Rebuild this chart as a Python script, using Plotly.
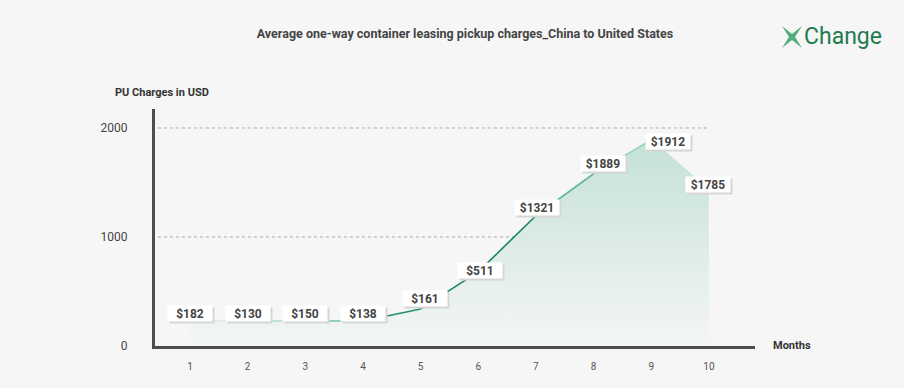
import plotly.graph_objects as go

# ---------------- data ----------------
months = [1, 2, 3, 4, 5, 6, 7, 8, 9, 10]
# values printed in the callouts
label_values = [182, 130, 150, 138, 161, 511, 1321, 1889, 1912, 1785]
# values of the drawn curve at each month
curve_values = [229, 229, 229, 229, 340, 680, 1195, 1580, 1890, 1430]
y_tick_values = [0, 1000, 2000]
x_tick_labels = ["1", "2", "3", "4", "5", "6", "7", "8", "9", "10"]

title_text = "Average one-way container leasing pickup charges_China to United States"
y_title = "PU Charges in USD"
x_title = "Months"
brand = "Change"

# ---------------- style ----------------
BG = "#f6f6f6"
FONT = "Roboto"
seg_colors = ["#d6ece3", "#b0dbc9", "#72c2a3", "#208f69", "#17875f",
              "#17875f", "#62b998", "#9dd3bc", "#c6e3d7"]
# callout offsets (px) relative to the curve point
label_shift = [(0, 8), (0, 8), (0, 8), (0, 8), (4, 10), (2, 1),
               (1, 8), (9, 10), (17, -2), (-1, 6)]

L, R, T, B = 155, 149, 109, 42
W, H = 904, 388
PW, PH = W - L - R, H - T - B
X_RANGE = [0.393, 10.80]
Y_RANGE = [0, 2174]


def px_x(px):
    return (px - L) / PW


def px_y(py):
    return (H - B - py) / PH


fig = go.Figure()

# gradient area
fig.add_trace(go.Scatter(
    x=months, y=curve_values, mode="none", fill="tozeroy",
    fillgradient=dict(type="vertical",
                      colorscale=[[0, "rgba(244,246,245,1)"], [1, "#c4e1d5"]],
                      start=0, stop=1900),
    hoverinfo="skip", showlegend=False))

# line, segment by segment (colour varies along the curve)
for i in range(len(months) - 1):
    fig.add_trace(go.Scatter(
        x=months[i:i + 2], y=curve_values[i:i + 2], mode="lines",
        line=dict(color=seg_colors[i], width=1.6),
        hoverinfo="skip", showlegend=False))

# dotted grid lines (stop at last month)
for v in y_tick_values[1:]:
    fig.add_shape(type="line", xref="x", yref="y",
                  x0=X_RANGE[0] + 0.05, x1=months[-1], y0=v, y1=v,
                  line=dict(color="#a8a8a8", width=1, dash="dot"), layer="below")

# callouts (shadow box + white box)
for m, cv, lv, (dx, dy) in zip(months, curve_values, label_values, label_shift):
    fig.add_annotation(x=m, y=cv, xref="x", yref="y", text=" ", showarrow=False,
                       xshift=dx + 2, yshift=dy - 2, bgcolor="#d6d6d6",
                       font=dict(family=FONT, size=12, color="#d6d6d6"),
                       width=40, height=11, borderpad=2)
    fig.add_annotation(x=m, y=cv, xref="x", yref="y", text=f"<b>${lv}</b>",
                       showarrow=False, xshift=dx, yshift=dy, bgcolor="#ffffff",
                       font=dict(family=FONT, size=12, color="#444444"),
                       width=40, height=11, borderpad=2)

# axis titles
fig.add_annotation(xref="paper", yref="paper", x=px_x(113), y=px_y(92),
                   xanchor="left", yanchor="middle", showarrow=False,
                   text=f"<b>{y_title}</b>",
                   font=dict(family=FONT, size=11, color="#333333"))
fig.add_annotation(xref="paper", yref="paper", x=px_x(771), y=px_y(345),
                   xanchor="left", yanchor="middle", showarrow=False,
                   text=f"<b>{x_title}</b>",
                   font=dict(family=FONT, size=11, color="#333333"))

# brand logo
fig.add_annotation(xref="paper", yref="paper", x=px_x(802), y=px_y(37),
                   xanchor="left", yanchor="middle", showarrow=False,
                   text=brand, font=dict(family=FONT, size=23, color="#1f7a52"))
star = [(782, 26), (792, 34), (802, 26), (795, 37), (802, 48),
        (792, 40), (782, 48), (789, 37)]
path = "M " + " L ".join(f"{px_x(a):.5f},{px_y(b):.5f}" for a, b in star) + " Z"
fig.add_shape(type="path", xref="paper", yref="paper", path=path,
              fillcolor="#55ad7f", line=dict(width=0))

fig.update_layout(
    width=W, height=H,
    margin=dict(l=L, r=R, t=T, b=B),
    paper_bgcolor=BG, plot_bgcolor=BG,
    font=dict(family=FONT, color="#444444"),
    title=dict(text=f"<b>{title_text}</b>", xref="container", yref="container",
               x=465 / W, y=1 - 34 / H, xanchor="center", yanchor="middle",
               font=dict(family=FONT, size=12.5, color="#444444")),
    showlegend=False,
    hovermode=False,
    xaxis=dict(range=X_RANGE, tickvals=months, ticktext=x_tick_labels,
               showgrid=False, zeroline=False, showline=True,
               linecolor="#4d4d4d", linewidth=3,
               ticks="outside", ticklen=9, tickcolor="rgba(0,0,0,0)",
               tickfont=dict(family=FONT, size=10, color="#555555"),
               fixedrange=True),
    yaxis=dict(range=Y_RANGE, tickvals=y_tick_values,
               showgrid=False, zeroline=False, showline=True,
               linecolor="#4d4d4d", linewidth=3,
               ticks="outside", ticklen=22, tickcolor="rgba(0,0,0,0)",
               tickfont=dict(family=FONT, size=12, color="#444444"),
               fixedrange=True),
)

fig.write_html("out.html",
               config={"displayModeBar": False, "staticPlot": True},
               post_script="document.body.style.margin='0';"
                           "document.body.style.background='#f6f6f6';")
